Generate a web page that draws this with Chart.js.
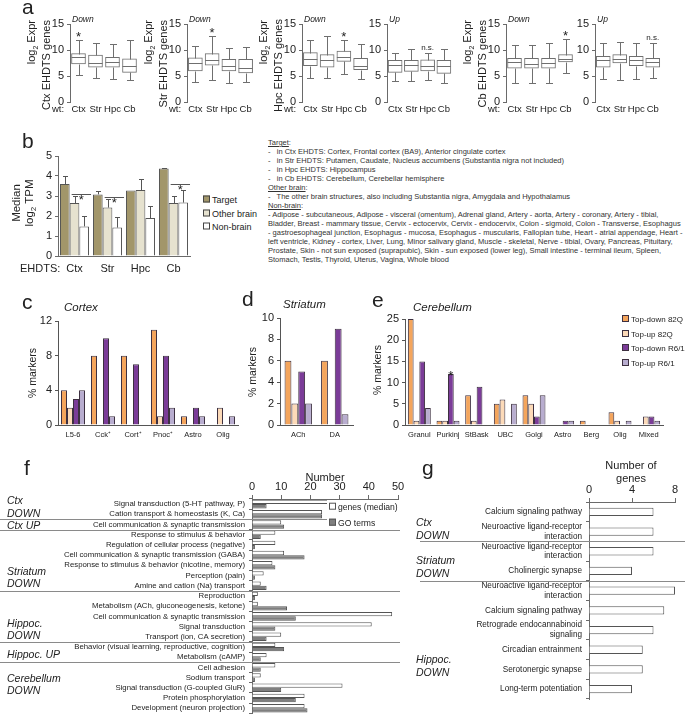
<!DOCTYPE html>
<html>
<head>
<meta charset="utf-8">
<script src="https://cdn.jsdelivr.net/npm/chart.js@4.4.0/dist/chart.umd.min.js"></script>
<style>
  body { margin: 0; background: #fff; }
  #fig { position: relative; width: 685px; height: 715px; overflow: hidden; font-family: Arial, "Liberation Sans", Helvetica, sans-serif; color: #222; }
  #fig canvas { position: absolute; }
  .t { position: absolute; white-space: nowrap; line-height: 1; }
  .rot { position: absolute; white-space: nowrap; line-height: 1.1; }
  .sw { display: inline-block; width: 5px; height: 5px; border: 1px solid #444; margin-right: 2px; vertical-align: middle; position: relative; top: -1px; }
  #notes { position: absolute; left: 268px; top: 139px; font-size: 7.5px; line-height: 8.97px; white-space: pre; color: #333; }
</style>
</head>
<body>
<div id="fig"></div>
<script>
// ---- data ----
const regions = ['Ctx', 'Str', 'Hpc', 'Cb']

// panel a: [min, q1, median, q3, max] for wt Ctx, Str, Hpc, Cb
const boxCtxDown = [[5.2, 7.3, 8.6, 9.3, 11.9], [4.7, 6.7, 7.5, 9.0, 11.4], [4.5, 6.7, 7.7, 8.6, 11.1], [4.3, 5.7, 7.0, 8.3, 12.0]]
const boxStrDown = [[3.9, 6.0, 7.5, 8.5, 10.7], [4.3, 7.1, 8.0, 9.3, 12.6], [3.7, 6.0, 7.0, 8.2, 10.4], [3.9, 5.6, 6.5, 8.2, 10.6]]
const boxHpcDown = [[4.7, 7.0, 8.3, 9.5, 11.9], [4.7, 6.7, 8.0, 9.1, 12.6], [5.4, 7.8, 8.6, 9.8, 12.0], [4.4, 6.2, 7.0, 8.4, 11.1]]
const boxHpcUp = [[4.1, 5.7, 7.1, 8.0, 9.4], [4.1, 5.9, 7.2, 8.0, 10.2], [4.2, 6.0, 7.0, 8.1, 9.4], [3.7, 5.5, 7.0, 8.0, 10.1]]
const boxCbDown = [[3.6, 6.5, 7.6, 8.4, 10.9], [3.6, 6.5, 7.4, 8.4, 10.9], [3.6, 6.5, 7.5, 8.4, 11.4], [5.6, 7.7, 8.3, 9.1, 12.1]]
const boxCbUp = [[4.4, 6.7, 8.1, 8.8, 11.3], [4.3, 7.5, 8.2, 9.1, 11.6], [4.4, 7.0, 8.0, 8.8, 11.3], [4.7, 6.7, 7.6, 8.4, 11.4]]

// panel b: median log2 TPM (+ upper error)
const tpmSeries = ['Target', 'Other brain', 'Non-brain']
const tpmTarget = [3.6, 3.08, 3.27, 4.37]
const tpmOther = [2.65, 2.42, 3.3, 2.65]
const tpmNon = [1.48, 1.42, 1.9, 2.67]
const errTarget = [0.4, 0.15, 0, 0.02]
const errOther = [0.35, 0.43, 0.55, 0.35]
const errNon = [0.5, 0.55, 0.62, 0.65]
const tpmSig = [3.1, 2.95, null, 3.6]

// panels c, d, e: % markers
const markerSeries = ['Top-down 82Q', 'Top-up 82Q', 'Top-down R6/1', 'Top-up R6/1']
const cortexCells = ['L5-6', 'Cck⁺', 'Cort⁺', 'Pnoc⁺', 'Astro', 'Olig']
const cortexDown82Q = [4, 8, 8, 11, 1, 0]
const cortexUp82Q = [2, 0, 0, 1, 0, 2]
const cortexDownR61 = [3, 10, 7, 8, 2, 0]
const cortexUpR61 = [4, 1, 0, 2, 1, 1]
const striatumCells = ['ACh', 'DA']
const striatumDown82Q = [6, 6]
const striatumUp82Q = [2, 0]
const striatumDownR61 = [5, 9]
const striatumUpR61 = [2, 1]
const cerebCells = ['Granul', 'Purkinj', 'StBask', 'UBC', 'Golgi', 'Astro', 'Berg', 'Olig', 'Mixed']
const cerebDown82Q = [25, 1, 7, 5, 7, 0, 1, 3, 0]
const cerebUp82Q = [1, 1, 1, 6, 5, 0, 0, 1, 2]
const cerebDownR61 = [15, 12, 9, 0, 2, 1, 0, 0, 2]
const cerebUpR61 = [4, 1, 0, 5, 7, 1, 0, 1, 1]

// panel f: GO terms
const goTerms = ['Signal transduction (5-HT pathway, P)', 'Cation transport & homeostasis (K, Ca)',
  'Cell communication & synaptic transmission', 'Response to stimulus & behavior',
  'Regulation of cellular process (negative)', 'Cell communication & synaptic transmission (GABA)',
  'Response to stimulus & behavior (nicotine, memory)', 'Perception (pain)', 'Amine and cation (Na) transport',
  'Reproduction', 'Metabolism (ACh, gluconeogenesis, ketone)', 'Cell communication & synaptic transmission',
  'Signal transduction', 'Transport (ion, CA secretion)', 'Behavior (visual learning, reproductive, cognition)',
  'Metabolism (cAMP)', 'Cell adhesion', 'Sodium transport', 'Signal transduction (G-coupled GluR)',
  'Protein phosphorylation', 'Development (neuron projection)']
const goGenes = [29, 24, 10, 8, 8, 11, 7, 4, 3, 2, 2, 48, 41, 10, 8, 5, 8, 3, 31, 18, 18]
const goCount = [5, 24, 11, 3, 1, 18, 8, 1, 5, 1, 12, 15, 8, 5, 11, 3, 3, 1, 10, 15, 19]
const goBreaks = [2, 3, 9, 14, 16]

// panel g: KEGG pathways
const keggTerms = ['Calcium signaling pathway', ['Neuroactive ligand-receptor', 'interaction'],
  ['Neuroactive ligand-receptor', 'interaction'], 'Cholinergic synapse',
  ['Neuroactive ligand-receptor', 'interaction'], 'Calcium signaling pathway',
  ['Retrograde endocannabinoid', 'signaling'], 'Circadian entrainment', 'Serotonergic synapse', 'Long-term potentiation']
const keggGenes = [6, 6, 6, 4, 8, 7, 6, 5, 5, 4]
const keggBreaks = [2, 4]

// ---- setup ----
Chart.defaults.font.family = 'Arial, "Liberation Sans", Helvetica, sans-serif'
Chart.defaults.color = '#222'
Chart.defaults.animation = false
Chart.defaults.responsive = false
Chart.defaults.events = []
Chart.defaults.plugins.legend.display = false
Chart.defaults.plugins.tooltip.enabled = false

const fig = document.getElementById('fig')
const axisCol = '#6a6a6a'
const markerColors = ['#f4a55c', '#fcdab8', '#7b3c98', '#b8adcf']
const tpmColors = ['#a2966a', '#e6e2cf', '#ffffff']

function canvasAt(left, top, w, h) {
  const c = document.createElement('canvas')
  c.width = w; c.height = h
  c.style.left = left + 'px'; c.style.top = top + 'px'
  c.style.width = w + 'px'; c.style.height = h + 'px'
  fig.appendChild(c)
  return c
}

// text with x = left edge (or centre/right) and y = vertical centre
function label(html, x, y, size, opt) {
  opt = opt || {}
  const d = document.createElement('div')
  d.className = 't'
  d.innerHTML = html
  d.style.left = x + 'px'; d.style.top = y + 'px'; d.style.fontSize = size + 'px'
  const tx = opt.align === 'center' ? '-50%' : opt.align === 'right' ? '-100%' : '0'
  d.style.transform = 'translate(' + tx + ',-50%)'
  if (opt.italic) d.style.fontStyle = 'italic'
  fig.appendChild(d)
  return d
}
function letter(ch, x, baseline) {
  const d = label(ch, x, 0, 21)
  d.style.transform = 'none'
  d.style.top = (baseline - 17.8) + 'px'
}
// vertical title, centre at (cx, cy)
function vtitle(html, cx, cy, size, width, align) {
  const d = document.createElement('div')
  d.className = 'rot'
  d.innerHTML = html
  d.style.fontSize = size + 'px'
  d.style.width = width + 'px'
  d.style.textAlign = align || 'center'
  d.style.left = (cx - width / 2) + 'px'
  d.style.top = cy + 'px'
  d.style.transform = 'translateY(-50%) rotate(-90deg)'
  fig.appendChild(d)
}

const boxPlugin = {
  id: 'boxes',
  afterDatasetsDraw(chart, args, opts) {
    const ds = chart.data.datasets[0], meta = chart.getDatasetMeta(0)
    const y = chart.scales.y, ctx = chart.ctx
    const py = v => Math.round(y.getPixelForValue(v)) + 0.5
    ctx.save()
    ctx.strokeStyle = '#6f6f6f'; ctx.lineWidth = 1
    ds.stats.forEach((s, i) => {
      const bar = meta.data[i]
      const x = Math.round(bar.x) + 0.5, hw = bar.width / 2
      ctx.beginPath()
      ctx.moveTo(x, py(s[0])); ctx.lineTo(x, py(s[1]))
      ctx.moveTo(x, py(s[3])); ctx.lineTo(x, py(s[4]))
      ctx.moveTo(x - 3.5, py(s[0])); ctx.lineTo(x + 3.5, py(s[0]))
      ctx.moveTo(x - 3.5, py(s[4])); ctx.lineTo(x + 3.5, py(s[4]))
      ctx.moveTo(bar.x - hw, py(s[2])); ctx.lineTo(bar.x + hw, py(s[2]))
      ctx.stroke()
    })
    if (opts.at) {
      const i = regions.indexOf(opts.at), bar = meta.data[i]
      const top = y.getPixelForValue(ds.stats[i][4])
      ctx.fillStyle = '#222'; ctx.textAlign = 'center'; ctx.textBaseline = 'alphabetic'
      if (opts.text === '*') { ctx.font = '13px Arial'; ctx.fillText('*', bar.x, top + 1) }
      else { ctx.font = '8px Arial'; ctx.fillText(opts.text, bar.x, top - 3) }
    }
    ctx.restore()
  }
}

const errPlugin = {
  id: 'errs',
  afterDatasetsDraw(chart, args, opts) {
    const ctx = chart.ctx, y = chart.scales.y
    ctx.save()
    ctx.strokeStyle = '#555'; ctx.lineWidth = 1
    chart.data.datasets.forEach((ds, d) => {
      chart.getDatasetMeta(d).data.forEach((bar, i) => {
        const e = ds.err[i]
        if (!e) return
        const x = Math.round(bar.x) + 0.5, top = Math.round(y.getPixelForValue(ds.data[i] + e)) + 0.5
        ctx.beginPath()
        ctx.moveTo(x, bar.y); ctx.lineTo(x, top)
        ctx.moveTo(x - 2.5, top); ctx.lineTo(x + 2.5, top)
        ctx.stroke()
      })
    })
    const m1 = chart.getDatasetMeta(1), m2 = chart.getDatasetMeta(2)
    ctx.fillStyle = '#222'; ctx.textAlign = 'center'; ctx.font = '13px Arial'
    opts.sig.forEach((v, i) => {
      if (v == null) return
      const py = Math.round(y.getPixelForValue(v)) + 0.5
      const x0 = m1.data[i].x - m1.data[i].width / 2 + 2, x1 = m2.data[i].x + m2.data[i].width / 2 + 2
      ctx.beginPath(); ctx.moveTo(x0, py); ctx.lineTo(x1, py); ctx.stroke()
      ctx.fillText('*', (x0 + x1) / 2, py + 9)
    })
    ctx.restore()
  }
}

const starPlugin = {
  id: 'stars',
  afterDatasetsDraw(chart, args, opts) {
    if (!opts.list) return
    const ctx = chart.ctx
    ctx.save()
    ctx.fillStyle = '#222'; ctx.textAlign = 'center'; ctx.font = '13px Arial'
    opts.list.forEach(s => {
      const bar = chart.getDatasetMeta(s.dataset).data[s.index]
      ctx.fillText('*', bar.x, bar.y + 6)
    })
    ctx.restore()
  }
}

const sepPlugin = {
  id: 'seps',
  afterDraw(chart, args, opts) {
    const y = chart.scales.y, ctx = chart.ctx
    ctx.save()
    ctx.strokeStyle = '#8a8a8a'; ctx.lineWidth = 1
    opts.breaks.forEach(b => {
      const py = Math.round((y.getPixelForValue(b - 1) + y.getPixelForValue(b)) / 2) + 0.5
      ctx.beginPath(); ctx.moveTo(opts.x0, py); ctx.lineTo(opts.x1, py); ctx.stroke()
    })
    ctx.restore()
  }
}

// ---- panel a: box plots ----
const boxPanels = [
  { stats: boxCtxDown, axis: 70, right: 138, region: 'Ctx', dir: 'Down', wt: true, mark: { at: 'Ctx', text: '*' } },
  { stats: boxStrDown, axis: 187, right: 254, region: 'Str', dir: 'Down', wt: true, mark: { at: 'Str', text: '*' } },
  { stats: boxHpcDown, axis: 302, right: 369, region: 'Hpc', dir: 'Down', wt: true, mark: { at: 'Hpc', text: '*' } },
  { stats: boxHpcUp, axis: 387, right: 452, region: null, dir: 'Up', wt: false, mark: { at: 'Hpc', text: 'n.s.' } },
  { stats: boxCbDown, axis: 506, right: 574, region: 'Cb', dir: 'Down', wt: true, mark: { at: 'Cb', text: '*' } },
  { stats: boxCbUp, axis: 595, right: 661, region: null, dir: 'Up', wt: false, mark: { at: 'Cb', text: 'n.s.' } }
]
boxPanels.forEach(p => {
  const left = p.axis - 60, w = p.right - left + 4
  new Chart(canvasAt(left, 12, w, 105), {
    type: 'bar',
    data: {
      labels: regions,
      datasets: [{ data: p.stats.map(s => [s[1], s[3]]), stats: p.stats, backgroundColor: '#fff',
        borderColor: '#6f6f6f', borderWidth: 1, borderSkipped: false, barThickness: 14 }]
    },
    options: {
      layout: { padding: { top: 12, right: 4, left: 0, bottom: 0 } },
      plugins: { boxes: p.mark },
      scales: {
        x: { grid: { display: false, drawTicks: false }, border: { display: false },
          ticks: { font: { size: 9.5 }, padding: 2, autoSkip: false, maxRotation: 0 },
          afterFit: s => { s.height = 15 } },
        y: { min: 0, max: 15, ticks: { stepSize: 5, font: { size: 11 }, padding: 3 },
          grid: { drawOnChartArea: false, tickLength: 3, color: axisCol }, border: { color: axisCol },
          afterFit: s => { s.width = 60 } }
      }
    },
    plugins: [boxPlugin]
  })
})

// ---- panel b ----
new Chart(canvasAt(0, 145, 200, 130), {
  type: 'bar',
  data: {
    labels: regions,
    datasets: [tpmTarget, tpmOther, tpmNon].map((v, k) => ({
      label: tpmSeries[k], data: v, err: [errTarget, errOther, errNon][k],
      backgroundColor: tpmColors[k], borderColor: '#555', borderWidth: 1
    }))
  },
  options: {
    layout: { padding: { top: 11, right: 10, left: 0, bottom: 0 } },
    datasets: { bar: { categoryPercentage: 0.88, barPercentage: 1 } },
    plugins: { errs: { sig: tpmSig } },
    scales: {
      x: { grid: { drawOnChartArea: false, drawTicks: false }, border: { color: axisCol },
        ticks: { font: { size: 11 }, padding: 6 }, afterFit: s => { s.height = 19 } },
      y: { min: 0, max: 5, ticks: { stepSize: 1, font: { size: 11 }, padding: 3 },
        grid: { drawOnChartArea: false, tickLength: 3, color: axisCol }, border: { color: axisCol },
        afterFit: s => { s.width = 58 } }
    }
  },
  plugins: [errPlugin]
})

// ---- panels c, d, e ----
function markerPanel(p) {
  new Chart(canvasAt(p.left, 295, p.w, 150), {
    type: 'bar',
    data: {
      labels: p.labels,
      datasets: p.values.map((v, k) => ({ label: markerSeries[k], data: v, backgroundColor: markerColors[k],
        borderColor: '#3d3040', borderWidth: 1 }))
    },
    options: {
      layout: { padding: { top: p.padTop, right: p.padRight, left: 0, bottom: 0 } },
      datasets: { bar: { categoryPercentage: p.cat, barPercentage: 1 } },
      plugins: { stars: { list: p.stars } },
      scales: {
        x: { grid: { drawOnChartArea: false, drawTicks: false }, border: { color: '#555' },
          ticks: { font: { size: 7.5 }, padding: 5, autoSkip: false, maxRotation: 0 }, afterFit: s => { s.height = 20 } },
        y: { min: 0, max: p.max, ticks: { stepSize: p.step, font: { size: 11 }, padding: 3 },
          grid: { drawOnChartArea: false, tickLength: 3, color: '#555' }, border: { color: '#555' },
          afterFit: s => { s.width = p.axisW } }
      }
    },
    plugins: [starPlugin]
  })
}
markerPanel({ left: 0, w: 245, axisW: 58, padTop: 26, padRight: 7, cat: 0.8, max: 12, step: 4,
  labels: cortexCells, values: [cortexDown82Q, cortexUp82Q, cortexDownR61, cortexUpR61] })
markerPanel({ left: 245, w: 115, axisW: 35, padTop: 23, padRight: 7, cat: 0.75, max: 10, step: 2,
  labels: striatumCells, values: [striatumDown82Q, striatumUp82Q, striatumDownR61, striatumUpR61] })
markerPanel({ left: 360, w: 325, axisW: 45, padTop: 24, padRight: 22, cat: 0.8, max: 25, step: 5,
  labels: cerebCells, values: [cerebDown82Q, cerebUp82Q, cerebDownR61, cerebUpR61],
  stars: [{ dataset: 2, index: 1 }] })

// ---- panel f ----
new Chart(canvasAt(0, 470, 410, 252), {
  type: 'bar',
  data: {
    labels: goTerms,
    datasets: [
      { label: 'genes (median)', data: goGenes, backgroundColor: '#ffffff', borderColor: '#555', borderWidth: 1 },
      { label: 'GO terms', data: goCount, backgroundColor: '#7f7f7f', borderColor: '#555', borderWidth: 1 }
    ]
  },
  options: {
    indexAxis: 'y',
    layout: { padding: { top: 0, right: 12, left: 0, bottom: 0 } },
    datasets: { bar: { categoryPercentage: 0.84, barPercentage: 1 } },
    plugins: { seps: { breaks: goBreaks, x0: 0, x1: 400 } },
    scales: {
      x: { position: 'top', min: 0, max: 50, ticks: { stepSize: 10, font: { size: 11 }, padding: 1 },
        grid: { drawOnChartArea: false, tickLength: 4, color: axisCol }, border: { color: axisCol },
        afterFit: s => { s.height = 29 } },
      y: { ticks: { font: { size: 7.8 }, padding: 4, autoSkip: false },
        grid: { drawOnChartArea: false, tickLength: 3, color: axisCol }, border: { color: axisCol },
        afterFit: s => { s.width = 252 } }
    }
  },
  plugins: [sepPlugin]
})

// ---- panel g ----
new Chart(canvasAt(420, 455, 265, 260), {
  type: 'bar',
  data: {
    labels: keggTerms,
    datasets: [{ label: 'Number of genes', data: keggGenes, backgroundColor: '#fff', borderColor: '#555', borderWidth: 1 }]
  },
  options: {
    indexAxis: 'y',
    layout: { padding: { top: 0, right: 10, left: 0, bottom: 16 } },
    datasets: { bar: { categoryPercentage: 0.42, barPercentage: 1 } },
    plugins: { seps: { breaks: keggBreaks, x0: 0, x1: 265 } },
    scales: {
      x: { position: 'top', min: 0, max: 8, ticks: { stepSize: 4, font: { size: 11 }, padding: 1 },
        grid: { drawOnChartArea: false, tickLength: 4, color: axisCol }, border: { color: axisCol },
        afterFit: s => { s.height = 47 } },
      y: { ticks: { font: { size: 8.2 }, padding: 4, autoSkip: false },
        grid: { drawOnChartArea: false, tickLength: 3, color: axisCol }, border: { color: axisCol },
        afterFit: s => { s.width = 169 } }
    }
  },
  plugins: [sepPlugin]
})

// ---- text ----
letter('a', 22, 14)
letter('b', 22, 148)
letter('c', 22, 309)
letter('d', 242, 306)
letter('e', 372, 307)
letter('f', 24, 475)
letter('g', 422, 475)

boxPanels.forEach(p => {
  label(p.dir, p.axis + 2, 19, 8.5, { italic: true })
  if (p.wt) label('wt:', p.axis - 18, 109, 9.5)
  if (p.region) vtitle('log<sub style="font-size:7px">2</sub> Expr<br>' + p.region + ' EHDTS genes', p.axis - 32, 66, 11, 92, 'right')
})

vtitle('Median<br>log<sub style="font-size:8px">2</sub> TPM', 24, 203, 11.5, 60, 'center')
label('EHDTS:', 20, 268, 11)
tpmSeries.forEach((s, k) => {
  label('<span class="sw" style="background:' + tpmColors[k] + '"></span>' + s, 203, 200 + k * 13.5, 9)
})

const notes = document.createElement('div')
notes.id = 'notes'
notes.innerHTML = [
  '<u>Target</u>:',
  '-   in Ctx EHDTS: Cortex, Frontal cortex (BA9), Anterior cingulate cortex',
  '-   in Str EHDTS: Putamen, Caudate, Nucleus accumbens (Substantia nigra not included)',
  '-   in Hpc EHDTS: Hippocampus',
  '-   in Cb EHDTS: Cerebellum, Cerebellar hemisphere',
  '<u>Other brain</u>:',
  '-   The other brain structures, also including Substantia nigra, Amygdala and Hypothalamus',
  '<u>Non-brain</u>:',
  '- Adipose - subcutaneous, Adipose - visceral (omentum), Adrenal gland, Artery - aorta, Artery - coronary, Artery - tibial,',
  'Bladder, Breast - mammary tissue, Cervix - ectocervix, Cervix - endocervix, Colon - sigmoid, Colon - Transverse, Esophagus',
  '- gastroesophageal junction, Esophagus - mucosa, Esophagus - muscularis, Fallopian tube, Heart - atrial appendage, Heart -',
  'left ventricle, Kidney - cortex, Liver, Lung, Minor salivary gland, Muscle - skeletal, Nerve - tibial, Ovary, Pancreas, Pituitary,',
  'Prostate, Skin - not sun exposed (suprapubic), Skin - sun exposed (lower leg), Small intestine - terminal ileum, Spleen,',
  'Stomach, Testis, Thyroid, Uterus, Vagina, Whole blood'
].join('\n')
fig.appendChild(notes)

label('Cortex', 64, 308, 11.5, { italic: true })
label('Striatum', 283, 305, 11.5, { italic: true })
label('Cerebellum', 413, 308, 11.5, { italic: true })
vtitle('% markers', 33, 373, 10.5, 60)
vtitle('% markers', 253, 372, 10.5, 60)
vtitle('% markers', 378, 370, 10.5, 60)
markerSeries.forEach((s, k) => {
  label('<span class="sw" style="background:' + markerColors[k] + ';border-color:#3d3040"></span>' + s, 622, 320 + k * 14.5, 8)
})

label('Number', 325, 477, 11, { align: 'center' })
const leg = document.createElement('div')
leg.style.cssText = 'position:absolute;left:327px;top:500px;width:74px;height:30px;background:#fff'
fig.appendChild(leg)
label('<span class="sw" style="background:#fff;border-color:#555"></span>genes (median)', 329, 507, 8.6)
label('<span class="sw" style="background:#7f7f7f;border-color:#555"></span>GO terms', 329, 523, 8.6)
;[['Ctx', 500], ['DOWN', 513], ['Ctx UP', 525], ['Striatum', 571], ['DOWN', 583], ['Hippoc.', 623],
  ['DOWN', 635], ['Hippoc. UP', 654], ['Cerebellum', 678], ['DOWN', 690]].forEach(g => label(g[0], 7, g[1], 10.5, { italic: true }))

label('Number of', 631, 465, 11, { align: 'center' })
label('genes', 631, 478, 11, { align: 'center' })
;[['Ctx', 522], ['DOWN', 535], ['Striatum', 560], ['DOWN', 573], ['Hippoc.', 659], ['DOWN', 672]]
  .forEach(g => label(g[0], 416, g[1], 10.5, { italic: true }))
</script>
</body>
</html>
